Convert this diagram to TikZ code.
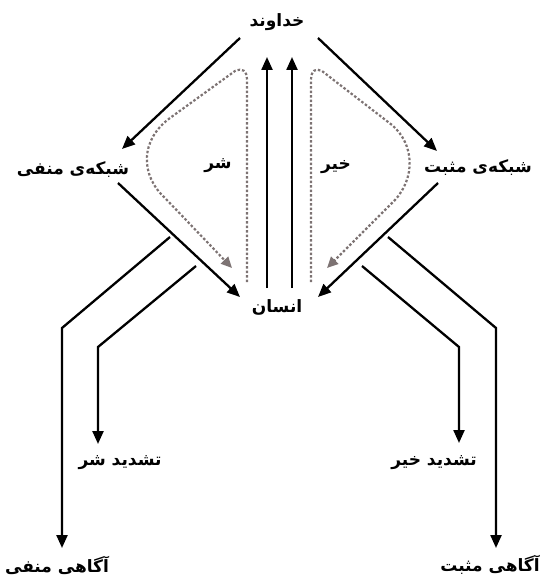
\documentclass[tikz,border=0pt]{standalone}
\usepackage{fontspec}
\usetikzlibrary{arrows.meta}
\TeXXeTstate=1
\newfontfamily\fa[Script=Arabic]{DejaVu Sans}
\definecolor{dotgrey}{RGB}{125,115,115}
\tikzset{
  lbl/.style={inner sep=0pt, font=\fa\bfseries\fontsize{17}{20}\selectfont},
  arr/.style={line width=2.3pt, -{Triangle[length=13pt,width=11pt]}},
  dotline/.style={dotgrey, line width=2.2pt, dash pattern=on 2.5pt off 2pt,
    -{Triangle[length=11pt,width=10pt]}},
}
\begin{document}
\begin{tikzpicture}[x=1pt,y=-1pt]
\useasboundingbox (0,0) rectangle (546,578);
% text nodes
\node[lbl] (god) at (277,22) {\beginR خداوند\endR};
\node[lbl] (neg) at (73,170) {\beginR شبکه‌ی منفی\endR};
\node[lbl] (pos) at (478,168) {\beginR شبکه‌ی مثبت\endR};
\node[lbl] (sharr) at (218,166) {\beginR شر\endR};
\node[lbl] (khayr) at (336,167) {\beginR خیر\endR};
\node[lbl] (ins) at (277,307) {\beginR انسان\endR};
\node[lbl] (tsh) at (120,463) {\beginR تشدید شر\endR};
\node[lbl] (tkh) at (434,463) {\beginR تشدید خیر\endR};
\node[lbl] (agn) at (57,565) {\beginR آگاهی منفی\endR};
\node[lbl] (agp) at (490,565) {\beginR آگاهی مثبت\endR};
% anchor points
\coordinate (godL) at (240,38);
\coordinate (godR) at (318,38);
\coordinate (negIn) at (122,149);
\coordinate (posIn) at (437,151);
\coordinate (negOut) at (118,183);
\coordinate (posOut) at (438,183);
\coordinate (insL) at (240,297);
\coordinate (insR) at (318,297);
\coordinate (insU1) at (267,288);
\coordinate (insU2) at (292,288);
\coordinate (godU1) at (267,57);
\coordinate (godU2) at (292,57);
% god -> networks
\draw[arr] (godL) -- (negIn);
\draw[arr] (godR) -- (posIn);
% networks -> human
\draw[arr] (negOut) -- (insL);
\draw[arr] (posOut) -- (insR);
% human -> god
\draw[arr] (insU1) -- (godU1);
\draw[arr] (insU2) -- (godU2);
% dotted curves
\draw[dotline] (247,282) -- (247,80) .. controls (247,70) and (242,68) .. (235,71)
  -- (170,118) .. controls (140,140) and (140,175) .. (165,198) -- (232,268);
\draw[dotline] (311,282) -- (311,80) .. controls (311,70) and (316,68) .. (322,71)
  -- (392,125) .. controls (415,145) and (415,178) .. (395,200) -- (327,268);
% lower branches
\coordinate (nb1) at (170,237);
\coordinate (nb2) at (196,266);
\coordinate (pb1) at (388,237);
\coordinate (pb2) at (362,266);
\coordinate (agnT) at (62,548);
\coordinate (tshT) at (98,444);
\coordinate (agpT) at (496,548);
\coordinate (tkhT) at (459,443);
\draw[arr] (nb1) -- (62,328) -- (agnT);
\draw[arr] (nb2) -- (98,347) -- (tshT);
\draw[arr] (pb1) -- (496,328) -- (agpT);
\draw[arr] (pb2) -- (459,347) -- (tkhT);
\end{tikzpicture}
\end{document}
